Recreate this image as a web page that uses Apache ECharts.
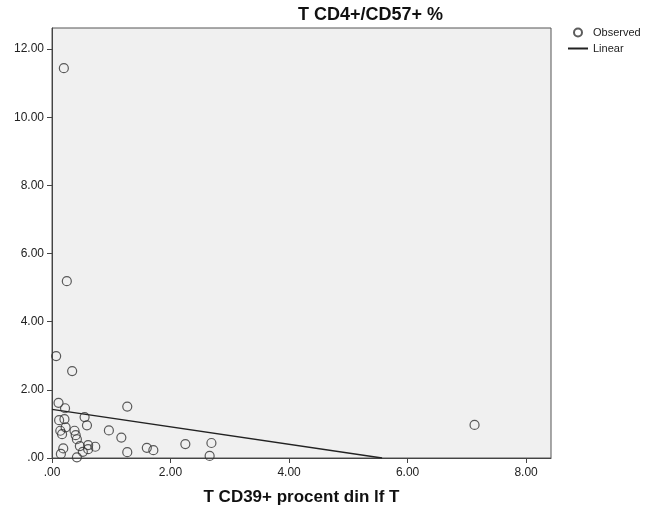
<!DOCTYPE html>
<html>
<head>
<meta charset="utf-8">
<script src="https://cdn.jsdelivr.net/npm/echarts@6/dist/echarts.min.js"></script>
<style>
html,body{margin:0;padding:0;background:#fff;}
#c{width:646px;height:508px;}
</style>
</head>
<body>
<div id="c"></div>
<script>
const titleText = 'T CD4+/CD57+ %';
const xTitle = 'T CD39+ procent din lf T';
const xTicks = [0, 2, 4, 6, 8];
const yTicks = [0, 2, 4, 6, 8, 10, 12];
const xRange = [0, 8.42];
const yRange = [0, 12.62];
const obsX = [0.20, 0.25, 0.07, 0.34, 7.13, 1.27, 0.11, 0.22, 0.12, 0.21, 0.55, 0.59, 0.14, 0.23, 0.17, 0.38, 0.40, 0.42, 0.96, 1.17, 0.47, 0.61, 0.61, 0.73, 0.52, 0.19, 0.15, 0.42, 1.27, 1.60, 1.71, 2.25, 2.69, 2.66];
const obsY = [11.44, 5.19, 2.99, 2.55, 0.97, 1.51, 1.62, 1.46, 1.11, 1.14, 1.20, 0.96, 0.80, 0.90, 0.70, 0.80, 0.67, 0.55, 0.81, 0.60, 0.35, 0.38, 0.26, 0.33, 0.18, 0.28, 0.12, 0.02, 0.17, 0.30, 0.23, 0.41, 0.44, 0.06];
const fitX = [0, 5.57];
const fitY = [1.43, 0];

const fmt = v => (v === 0 ? '.00' : v.toFixed(2));
const font = '"Liberation Sans", Arial, sans-serif';

const chart = echarts.init(document.getElementById('c'), null, {renderer: 'canvas'});
chart.setOption({
  animation: false,
  backgroundColor: '#ffffff',
  title: {
    text: titleText,
    left: 293, top: 1,
    textStyle: {fontFamily: font, fontSize: 18, fontWeight: 'bold', color: '#111'}
  },
  legend: {
    orient: 'vertical', left: 562, top: 22,
    itemWidth: 20, itemHeight: 8, itemGap: 5,
    textStyle: {fontFamily: font, fontSize: 11, color: '#222'},
    data: ['Observed', {name: 'Linear', itemStyle: {opacity: 0}}]
  },
  grid: {
    left: 52, top: 28, width: 499, height: 430,
    show: true, backgroundColor: '#f0f0f0', borderColor: '#555', borderWidth: 1,
    containLabel: false,
    outerBoundsMode: 'none'
  },
  xAxis: {
    type: 'value', min: xRange[0], max: xRange[1],
    name: xTitle, nameLocation: 'middle', nameGap: 31,
    nameTextStyle: {fontFamily: font, fontSize: 17, fontWeight: 'bold', color: '#111'},
    splitLine: {show: false},
    axisLine: {show: true, lineStyle: {color: '#444', width: 1}},
    axisTick: {show: true, length: 5, customValues: xTicks, lineStyle: {color: '#444'}},
    axisLabel: {customValues: xTicks, formatter: fmt, fontFamily: font, fontSize: 12, color: '#222', margin: 9}
  },
  yAxis: {
    type: 'value', min: yRange[0], max: yRange[1],
    splitLine: {show: false},
    axisLine: {show: true, lineStyle: {color: '#444', width: 1}},
    axisTick: {show: true, length: 5, customValues: yTicks, lineStyle: {color: '#444'}},
    axisLabel: {customValues: yTicks, formatter: fmt, fontFamily: font, fontSize: 12, color: '#222', margin: 8}
  },
  series: [
    {
      name: 'Observed', type: 'scatter',
      symbol: 'circle', symbolSize: 9,
      itemStyle: {color: 'rgba(0,0,0,0)', borderColor: '#333', borderWidth: 1.2},
      data: obsX.map((x, i) => [x, obsY[i]]),
      z: 3
    },
    {
      name: 'Linear', type: 'line',
      symbol: 'none',
      itemStyle: {color: '#222'},
      lineStyle: {color: '#222', width: 1.3},
      data: fitX.map((x, i) => [x, fitY[i]]),
      z: 2
    }
  ]
});
</script>
</body>
</html>
